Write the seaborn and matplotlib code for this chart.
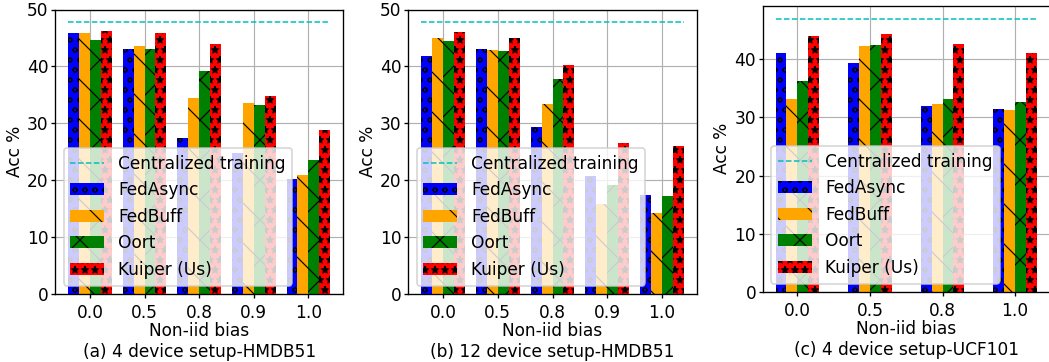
import numpy as np
import pandas as pd
import matplotlib
matplotlib.use("Agg")
import matplotlib.pyplot as plt
import seaborn as sns

# ---- data -----------------------------------------------------------------
methods = ["FedAsync", "FedBuff", "Oort", "Kuiper (Us)"]
bias_ab = ["0.0", "0.5", "0.8", "0.9", "1.0"]
bias_c = ["0.0", "0.5", "0.8", "1.0"]

# (a) 4 devices, HMDB51
a_fedasync = [45.8, 43.0, 27.4, 24.8, 20.2]
a_fedbuff = [45.8, 43.6, 34.5, 33.6, 21.0]
a_oort = [44.7, 43.1, 39.2, 33.3, 23.5]
a_kuiper = [46.3, 45.8, 43.9, 34.8, 28.8]
a_central = 47.8

# (b) 12 devices, HMDB51
b_fedasync = [41.8, 43.1, 29.4, 20.7, 17.4]
b_fedbuff = [45.0, 42.9, 33.4, 15.8, 14.2]
b_oort = [44.5, 42.7, 37.8, 19.1, 17.3]
b_kuiper = [46.1, 45.0, 40.2, 26.6, 26.0]
b_central = 47.8

# (c) 4 devices, UCF101
c_fedasync = [41.1, 39.4, 32.0, 31.5]
c_fedbuff = [33.1, 42.3, 32.4, 31.3]
c_oort = [36.2, 42.5, 33.2, 32.7]
c_kuiper = [44.0, 44.4, 42.6, 41.0]
c_central = 46.9

captions = ["(a) 4 device setup-HMDB51",
            "(b) 12 device setup-HMDB51",
            "(c) 4 device setup-UCF101"]

colors = ["#0000ff", "#ffa500", "#008000", "#ff0000"]
hatches = ["oo", "\\", "x", "**"]

# ---- style ------------------------------------------------------------------
DPI = 120
plt.rcParams.update({
    "font.family": ["DejaVu Sans"],
    "font.size": 10.2,
    "hatch.linewidth": 0.7,
    "xtick.major.size": 2.6,
    "ytick.major.size": 2.6,
    "ytick.major.pad": 1.2,
    "xtick.major.pad": 3.5,
})

fig = plt.figure(figsize=(1049 / DPI, 362 / DPI), dpi=DPI)
W, H = 1049.0, 362.0


def px_axes(left, right, top, bottom):
    return fig.add_axes([left / W, 1 - bottom / H, (right - left) / W, (bottom - top) / H])


axes = [
    px_axes(55, 343.3, 9.5, 294),
    px_axes(408, 697, 9.5, 294),
    px_axes(762.5, 1050, 5.5, 292),
]


def long_frame(cats, series):
    rows = []
    for m, vals in zip(methods, series):
        for c, v in zip(cats, vals):
            rows.append({"bias": c, "method": m, "acc": v})
    return pd.DataFrame(rows)


panels = [
    (bias_ab, [a_fedasync, a_fedbuff, a_oort, a_kuiper], a_central, 0.8, 50),
    (bias_ab, [b_fedasync, b_fedbuff, b_oort, b_kuiper], b_central, 0.8, 50),
    (bias_c, [c_fedasync, c_fedbuff, c_oort, c_kuiper], c_central, 0.6, None),
]

for ax, (cats, series, central, width, ytop), cap in zip(axes, panels, captions):
    df = long_frame(cats, series)
    sns.barplot(data=df, x="bias", y="acc", hue="method", order=cats,
                hue_order=methods, palette=colors, saturation=1, width=width,
                errorbar=None, legend=False, edgecolor="black", linewidth=0,
                ax=ax)
    containers = list(ax.containers)
    for cont, h in zip(containers, hatches):
        for bar in cont:
            bar.set_hatch(h)

    # centralized reference spans the full extent of the bar groups
    x0 = containers[0][0].get_x()
    x1 = containers[-1][-1].get_x() + containers[-1][-1].get_width()
    (line,) = ax.plot([x0, x1], [central, central], linestyle="--",
                      color="c", linewidth=0.9)

    pad = 0.05 * (x1 - x0)
    ax.set_xlim(x0 - pad, x1 + pad)
    if ytop is None:
        ytop = central * 1.05
    ax.set_ylim(0, ytop)

    ax.grid(True, color="#b0b0b0", linewidth=0.7)
    ax.set_axisbelow(True)
    ax.set_ylabel("Acc %", labelpad=2)
    ax.set_xlabel("Non-iid bias\n" + cap, labelpad=0)

    ax.legend([line] + containers, ["Centralized training"] + methods,
              loc="lower left")

fig.savefig("out.png", dpi=DPI)
